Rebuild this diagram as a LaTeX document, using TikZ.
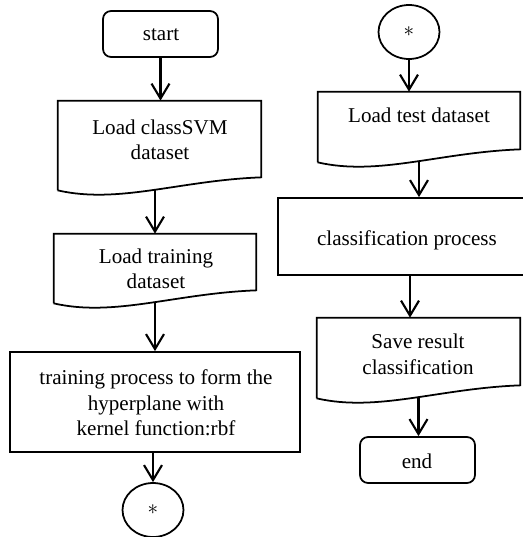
\documentclass[tikz,border=0pt]{standalone}
\usepackage{fontspec}
\setmainfont{Liberation Serif}
\usetikzlibrary{shapes.geometric, arrows.meta, calc}
\tikzset{
  termbox/.style={rectangle, rounded corners=0.16cm, draw, line width=1pt},
  procbox/.style={rectangle, draw, line width=1pt},
  docbox/.style={rectangle, inner sep=0pt},
  connbox/.style={ellipse, draw, line width=1pt, minimum width=1.22cm, minimum height=1.08cm, inner sep=0pt},
  boxtext/.style={align=center, inner sep=0pt},
  flowarrow/.style={line width=1.2pt, -{Straight Barb[length=0.3cm, width=0.36cm, line width=1.2pt]}}
}
% outline of a document box with a wavy bottom
\newcommand{\wavedoc}[1]{%
  \draw[line width=1pt] (#1.south west) -- (#1.north west) -- (#1.north east)
    -- ($(#1.south east)+(0,-13)$)
    .. controls ($(#1.south west)!0.6!(#1.south east)+(0,-10)$) and ($(#1.south west)!0.3!(#1.south east)+(0,14)$) .. (#1.south west);
}

\begin{document}
\begin{tikzpicture}[x=0.02cm, y=-0.02cm, font=\fontsize{12}{14.5}\selectfont]
\useasboundingbox (0,0) rectangle (523,537);

% left column
\node[termbox, minimum width=2.3cm, minimum height=0.92cm] (start) at (160.5,34) {};
\node[boxtext] (starttxt) at (161,35) {start};

\node[docbox, minimum width=4.06cm, minimum height=1.78cm] (classsvm) at (159.5,145.5) {};
\wavedoc{classsvm}
\node[boxtext] (classsvmtxt) at (160,140) {Load classSVM\\dataset};

\node[docbox, minimum width=4.04cm, minimum height=1.38cm] (training) at (155,268.5) {};
\wavedoc{training}
\node[boxtext] (trainingtxt) at (156,269) {Load training\\dataset};

\node[procbox, minimum width=5.8cm, minimum height=2cm] (trainproc) at (155,402) {};
\node[boxtext] (trainproctxt) at (156,403) {training process to form the\\hyperplane with\\kernel function:rbf};

\node[connbox] (connout) at (153,510) {$\ast$};

% right column
\node[connbox] (connin) at (409,32) {$\ast$};

\node[docbox, minimum width=4.04cm, minimum height=1.4cm] (testset) at (419,127) {};
\wavedoc{testset}
\node[boxtext] (testsettxt) at (419,115) {Load test dataset};

\node[procbox, minimum width=5.28cm, minimum height=1.54cm] (classproc) at (410,236.5) {};
\node[boxtext] (classproctxt) at (407,240) {classification process};

\node[docbox, minimum width=4.06cm, minimum height=1.6cm] (saveres) at (418.5,358) {};
\wavedoc{saveres}
\node[boxtext] (saverestxt) at (418,354.5) {Save result\\classification};

\node[termbox, minimum width=2.3cm, minimum height=0.92cm] (end) at (417.5,460) {};
\node[boxtext] (endtxt) at (417,461) {end};

% arrows
\draw[flowarrow] (start.south) -- (start.south |- classsvm.north);
\draw[flowarrow] (classsvm.south -| training.north) -- (training.north);
\draw[flowarrow] (training.south) -- (training.south |- trainproc.north);
\draw[flowarrow] (trainproc.south -| connout.north) -- (connout.north);
\draw[flowarrow] (connin.south) -- (connin.south |- testset.north);
\draw[flowarrow] (testset.south) -- (testset.south |- classproc.north);
\draw[flowarrow] (classproc.south) -- (classproc.south |- saveres.north);
\draw[flowarrow] (saveres.south) -- (saveres.south |- end.north);
\end{tikzpicture}
\end{document}
